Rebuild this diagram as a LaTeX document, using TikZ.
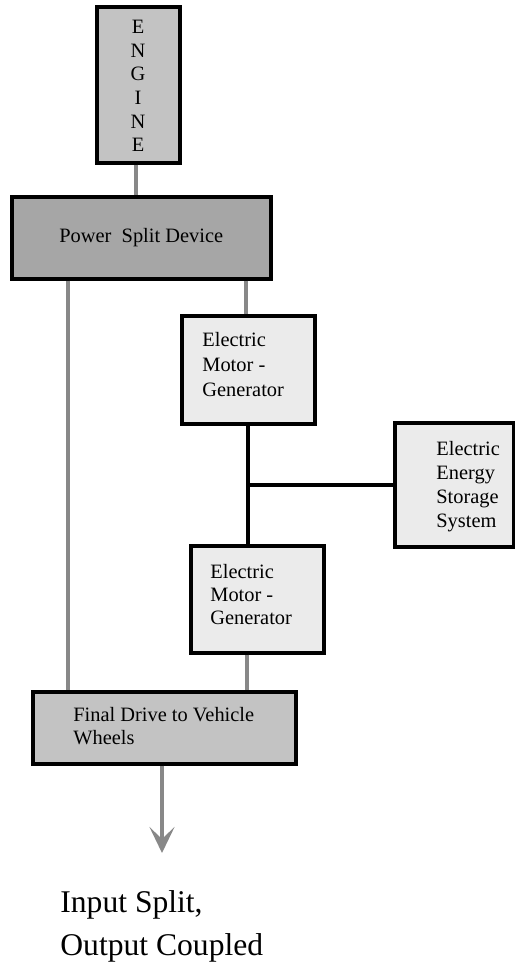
\documentclass[tikz,border=0pt]{standalone}
\usepackage{fontspec}
\setmainfont{Liberation Serif}
\usetikzlibrary{arrows.meta}

\definecolor{shaftgray}{HTML}{888888}
\definecolor{midgray}{HTML}{C3C3C3}
\definecolor{darkgray}{HTML}{A6A6A6}
\definecolor{lightgray}{HTML}{EBEBEB}

\begin{document}
\begin{tikzpicture}[x=0.5pt, y=-0.5pt,
    box/.style = {draw, line width=1.75pt, anchor=north west, inner sep=0pt},
    lbl/.style = {anchor=west, align=left, inner sep=0pt, font=\fontsize{10.2}{12}\selectfont},
    shaft/.style = {draw=shaftgray, line width=2pt},
    wire/.style = {draw=black, line width=2pt}]
        \useasboundingbox (0,0) rectangle (515,971);
        \def\letterSep{23.6}

        % Drawing the boxes
        \node[box, fill=midgray, minimum width=41.5pt, minimum height=78pt] (engine) at (95,5) {};
        \node[box, fill=darkgray, minimum width=129.5pt, minimum height=41pt,
              font=\fontsize{10.2}{12}\selectfont] (psd) at (10,195) {Power~~Split Device};
        \node[box, fill=lightgray, minimum width=66.5pt, minimum height=54pt] (emgA) at (180,314) {};
        \node[box, fill=lightgray, minimum width=59.5pt, minimum height=62pt] (ees) at (393,421) {};
        \node[box, fill=lightgray, minimum width=66.5pt, minimum height=53.5pt] (emgB) at (189,544) {};
        \node[box, fill=midgray, minimum width=131.5pt, minimum height=36pt] (fdw) at (31,690) {};

        % Drawing the texts
        \foreach \ch [count=\k] in {E,N,G,I,N,E}{
            \node[inner sep=0pt, font=\fontsize{10.2}{12}\selectfont] (engine-\k) at (138, {27+\letterSep*(\k-1)}) {\ch};
          }
        \node[lbl, font=\fontsize{10.2}{12.5}\selectfont] (emgA-txt) at (202,365) {Electric\\Motor -\\Generator};
        \node[lbl] (ees-txt) at (436,487) {Electric\\Energy\\Storage\\System};
        \node[lbl, font=\fontsize{10.2}{11.5}\selectfont] (emgB-txt) at (210,595) {Electric\\Motor -\\Generator};
        \node[lbl, font=\fontsize{10.2}{11.5}\selectfont] (fdw-txt) at (73,726.5) {Final Drive to Vehicle\\Wheels};
        \node[lbl, font=\fontsize{15.8}{21.5}\selectfont] (caption) at (60,926) {Input Split,\\Output Coupled};

        % Connections
        % Mechanical shafts
        \draw[shaft] ([xshift=-1.25pt]engine.south) -- ([xshift=-1.25pt]engine.south |- psd.north);
        \draw[shaft] ([xshift=29pt]psd.south west) -- ([xshift=29pt]psd.south west |- fdw.north);
        \draw[shaft] ([xshift=-1.25pt]emgA.north |- psd.south) -- ([xshift=-1.25pt]emgA.north);
        \draw[shaft] ([xshift=-5.25pt]emgB.south) -- ([xshift=-5.25pt]emgB.south |- fdw.north);

        % Electric links to the storage
        \coordinate (jn) at (emgA.south |- ees.west);
        \draw[wire] (emgA.south) -- (jn) -- (jn |- emgB.north);
        \draw[wire] (jn) -- (ees.west);

        % Output to the wheels
        \coordinate (out) at (162,853);
        \draw[shaft, -{Stealth[length=13pt, width=12.5pt, inset=6pt]}] (fdw.south -| out) -- (out);
      \end{tikzpicture}
\end{document}
